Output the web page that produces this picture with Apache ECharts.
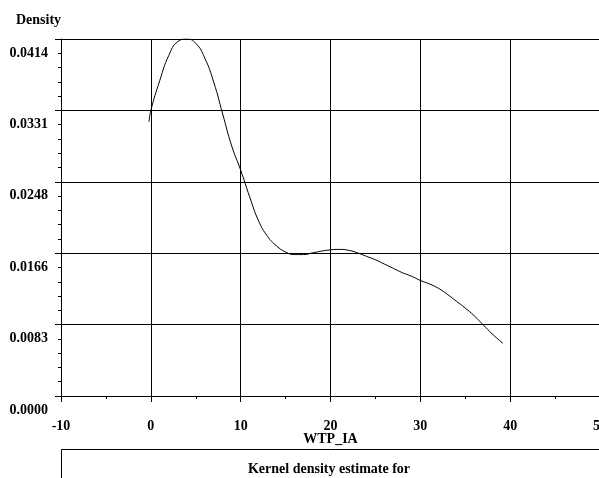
<!DOCTYPE html>
<html>
<head>
<meta charset="utf-8">
<script src="https://cdn.jsdelivr.net/npm/echarts@6/dist/echarts.min.js"></script>
<style>
  html, body { margin: 0; padding: 0; background: #fff; }
  #chart { width: 599px; height: 478px; }
</style>
</head>
<body>
<div id="chart"></div>
<script>
// values
const wtp = [-0.2, 0, 1, 2, 3, 4, 5, 6, 7, 8, 9, 10, 11, 12, 13, 14, 15, 16, 17, 18, 19,
  20, 21, 22, 23, 24, 25, 26, 27, 28, 29, 30, 31, 32, 33, 34, 35, 36, 37, 38, 39.2];
const density = [0.0318, 0.0331, 0.0366, 0.0395, 0.0411, 0.0414, 0.0409, 0.0392, 0.0364, 0.0327,
  0.0290, 0.0262, 0.0231, 0.0203, 0.0185, 0.0174, 0.0167, 0.0164, 0.0164, 0.0166, 0.0168,
  0.01695, 0.0170, 0.0169, 0.0166, 0.0162, 0.0158, 0.0153, 0.0148, 0.0143, 0.0139,
  0.0134, 0.0130, 0.0125, 0.0118, 0.0110, 0.0102, 0.0093, 0.00825, 0.0072, 0.0061];
const yStep = 0.00828;
const yMax = 0.0414;

const font = '"Liberation Serif", "Times New Roman", serif';
const txt = { color: '#000', fontFamily: font, fontWeight: 'bold', fontSize: 14 };

const chart = echarts.init(document.getElementById('chart'));
chart.setOption({
  animation: false,
  backgroundColor: '#fff',
  title: {
    text: 'Density',
    left: 11,
    top: 8,
    textStyle: txt
  },
  grid: {
    left: 61,
    right: -1,
    top: 39,
    bottom: 82,
    outerBoundsMode: 'none'
  },
  xAxis: {
    type: 'value',
    min: -10,
    max: 50,
    interval: 10,
    name: 'WTP_IA',
    nameLocation: 'middle',
    nameGap: 36,
    nameMoveOverlap: false,
    nameTextStyle: txt,
    axisLine: { onZero: false, lineStyle: { color: '#000', width: 1 } },
    axisTick: { length: 6, lineStyle: { color: '#000' } },
    minorTick: { show: true, splitNumber: 2, length: 3, lineStyle: { color: '#000' } },
    axisLabel: { ...txt, margin: 23 },
    splitLine: { show: true, lineStyle: { color: '#000', width: 1 } }
  },
  yAxis: {
    type: 'value',
    min: 0,
    max: yMax,
    interval: yStep,
    axisLine: { show: true, onZero: false, lineStyle: { color: '#000', width: 1 } },
    axisTick: { show: true, length: 6, lineStyle: { color: '#000' } },
    minorTick: { show: true, splitNumber: 5, length: 3, lineStyle: { color: '#000' } },
    axisLabel: {
      ...txt,
      margin: 13,
      verticalAlign: 'top',
      lineHeight: 28,
      formatter: v => v.toFixed(4)
    },
    splitLine: { show: true, lineStyle: { color: '#000', width: 1 } }
  },
  graphic: [
    {
      type: 'rect',
      shape: { x: 61.5, y: 449.5, width: 600, height: 100 },
      style: { fill: 'none', stroke: '#000', lineWidth: 1 }
    },
    {
      type: 'text',
      x: 329,
      y: 469,
      style: {
        text: 'Kernel density estimate for',
        fill: '#000',
        font: 'bold 14px ' + font,
        textAlign: 'center',
        textVerticalAlign: 'middle'
      }
    }
  ],
  series: [{
    type: 'line',
    data: wtp.map((x, i) => [x, density[i]]),
    smooth: true,
    showSymbol: false,
    lineStyle: { color: '#000', width: 1 }
  }]
});
</script>
</body>
</html>
